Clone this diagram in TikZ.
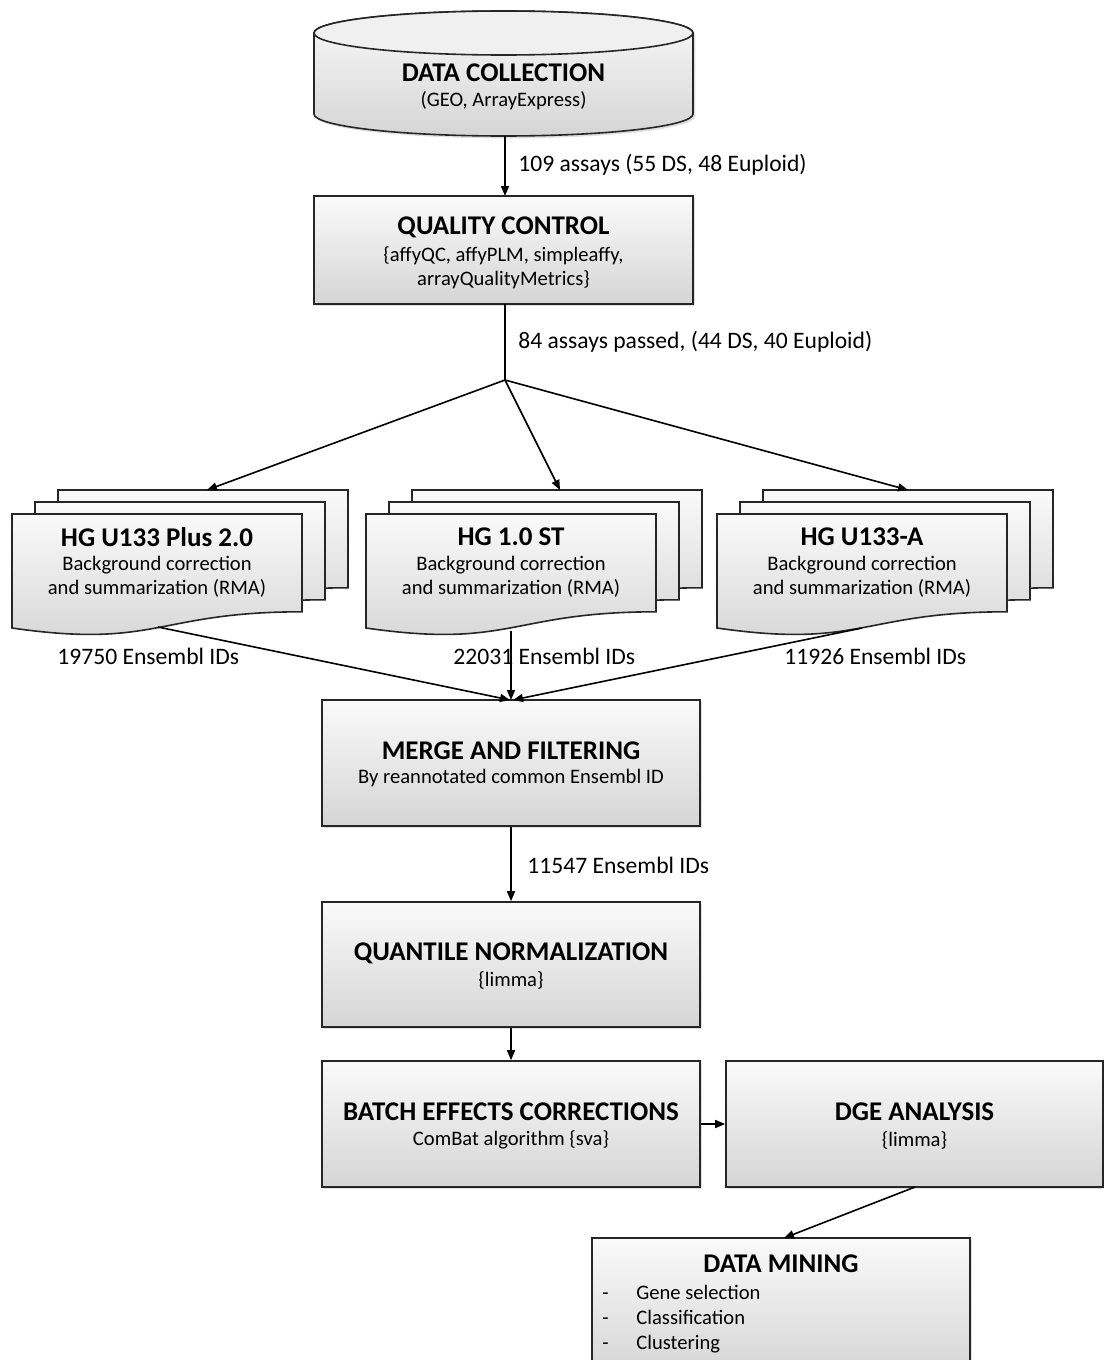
\documentclass[tikz,border=0pt]{standalone}
\usepackage{fontspec}
\setmainfont{Carlito}
\usetikzlibrary{arrows.meta,shadows,calc}
\begin{document}
\begin{tikzpicture}[x=0.5pt,y=0.5pt,
  outline/.style={draw=black!85,line width=0.8pt},
  greyfill/.style={top color=gray!4,bottom color=gray!33},
  box/.style={outline,greyfill,rectangle,align=center,inner sep=0pt,
    drop shadow={opacity=0.25,shadow xshift=1.2pt,shadow yshift=-1.2pt}},
  ttl/.style={font=\fontsize{13.5}{15}\selectfont\bfseries},
  sub/.style={font=\fontsize{10.3}{12.2}\selectfont},
  lbl/.style={font=\fontsize{11.8}{13}\selectfont,anchor=west,inner sep=0pt},
  item/.style={font=\fontsize{10.3}{12.2}\selectfont,anchor=base west,inner sep=0pt},
  conn/.style={line width=0.8pt,-{Triangle[length=5pt,width=4pt]}},
  plain/.style={line width=0.8pt}
]
\useasboundingbox (0,0) rectangle (1103,-1360);

% ---------- data collection (cylinder) ----------
\path[outline,greyfill,drop shadow={opacity=0.25,shadow xshift=1.2pt,shadow yshift=-1.2pt}]
  (314,-33) -- (314,-114)
  arc[start angle=180,end angle=360,x radius=189.5,y radius=22]
  -- (693,-33)
  arc[start angle=0,end angle=180,x radius=189.5,y radius=22] -- cycle;
\draw[outline,fill=gray!12] (503.5,-33) ellipse[x radius=189.5,y radius=22];
\node[ttl] (dc) at (503.5,-73) {DATA COLLECTION};
\node[sub] at (503.5,-101) {(GEO, ArrayExpress)};
\coordinate (dcbot) at (505,-136);

% ---------- quality control ----------
\node[box,minimum width=189.5pt,minimum height=54pt] (qc) at (503.5,-250) {};
\node[ttl] at (503.5,-227) {QUALITY CONTROL};
\node[sub,align=center] at (503.5,-268) {\{affyQC, affyPLM, simpleaffy,\\arrayQualityMetrics\}};

\draw[conn] (dcbot) -- (505,-196);
\node[lbl] at (518,-165) {109 assays (55 DS, 48 Euploid)};

\coordinate (split) at (505,-380);
\draw[plain] (505,-304) -- (split);
\node[lbl] at (518,-342) {84 assays passed, (44 DS, 40 Euploid)};

% ---------- platform document stacks ----------
\newcommand\docsheet[2]{%
  \path[outline,greyfill]
    (#1,-#2) -- (#1+290,-#2) -- (#1+290,-#2-97.8)
    .. controls (#1+145,-#2-97.8) and (#1+145,-#2-135) .. (#1,-#2-114) -- cycle;}
\newcommand\docstack[1]{%
  \docsheet{#1+46}{490}\docsheet{#1+23}{502}\docsheet{#1}{514}}

\docstack{12}
\docstack{366}
\docstack{717}

\coordinate (pA) at (207,-490);
\coordinate (pB) at (560,-490);
\coordinate (pC) at (908,-490);
\draw[conn] (split) -- (pA);
\draw[conn] (split) -- (pB);
\draw[conn] (split) -- (pC);

\node[ttl] (hgA) at (157,-537) {HG U133 Plus 2.0};
\node[sub,align=center] at (157,-577) {Background correction\\and summarization (RMA)};
\node[ttl] (hgB) at (511,-537) {HG 1.0 ST};
\node[sub,align=center] at (511,-577) {Background correction\\and summarization (RMA)};
\node[ttl] (hgC) at (862,-537) {HG U133-A};
\node[sub,align=center] at (862,-577) {Background correction\\and summarization (RMA)};

\coordinate (oA) at (158,-627);
\coordinate (oB) at (511,-631);
\coordinate (oC) at (862,-628);

% ---------- merge and filtering ----------
\node[box,minimum width=189pt,minimum height=63pt] (mf) at (511,-763) {};
\node[ttl] at (511,-751) {MERGE AND FILTERING};
\node[sub] at (511,-778) {By reannotated common Ensembl ID};

\draw[conn] (oA) -- (510,-700);
\draw[conn] (oB) -- (511,-700);
\draw[conn] (oC) -- (513,-700);
\node[lbl] at (57,-656) {19750 Ensembl IDs};
\node[lbl] at (453,-656) {22031 Ensembl IDs};
\node[lbl] at (784,-656) {11926 Ensembl IDs};

% ---------- quantile normalization ----------
\node[box,minimum width=189pt,minimum height=62.5pt] (qn) at (511,-964.5) {};
\node[ttl] at (511,-953) {QUANTILE NORMALIZATION};
\node[sub] at (511,-980) {\{limma\}};
\draw[conn] (mf.south) -- (qn.north);
\node[lbl] at (527,-865) {11547 Ensembl IDs};

% ---------- batch effects ----------
\node[box,minimum width=189pt,minimum height=63pt] (be) at (511,-1124) {};
\node[ttl] at (511,-1112) {BATCH EFFECTS CORRECTIONS};
\node[sub] at (511,-1140) {ComBat algorithm \{sva\}};
\draw[conn] (qn.south) -- (be.north);

% ---------- DGE analysis ----------
\node[box,minimum width=188.5pt,minimum height=63pt] (dge) at (914.5,-1124) {};
\node[ttl] at (914.5,-1112) {DGE ANALYSIS};
\node[sub] at (914.5,-1140) {\{limma\}};
\draw[conn] (be.east) -- (dge.west);

% ---------- data mining ----------
\node[box,minimum width=189pt,minimum height=68.5pt] (dm) at (781,-1306.5) {};
\node[ttl] at (781,-1264) {DATA MINING};
\node[item] at (602,-1299) {-};
\node[item] at (636,-1299) {Gene selection};
\node[item] at (602,-1324) {-};
\node[item] at (636,-1324) {Classification};
\node[item] at (602,-1349) {-};
\node[item] at (636,-1349) {Clustering};
\draw[conn] (915,-1187) -- (784,-1238);
\end{tikzpicture}
\end{document}
